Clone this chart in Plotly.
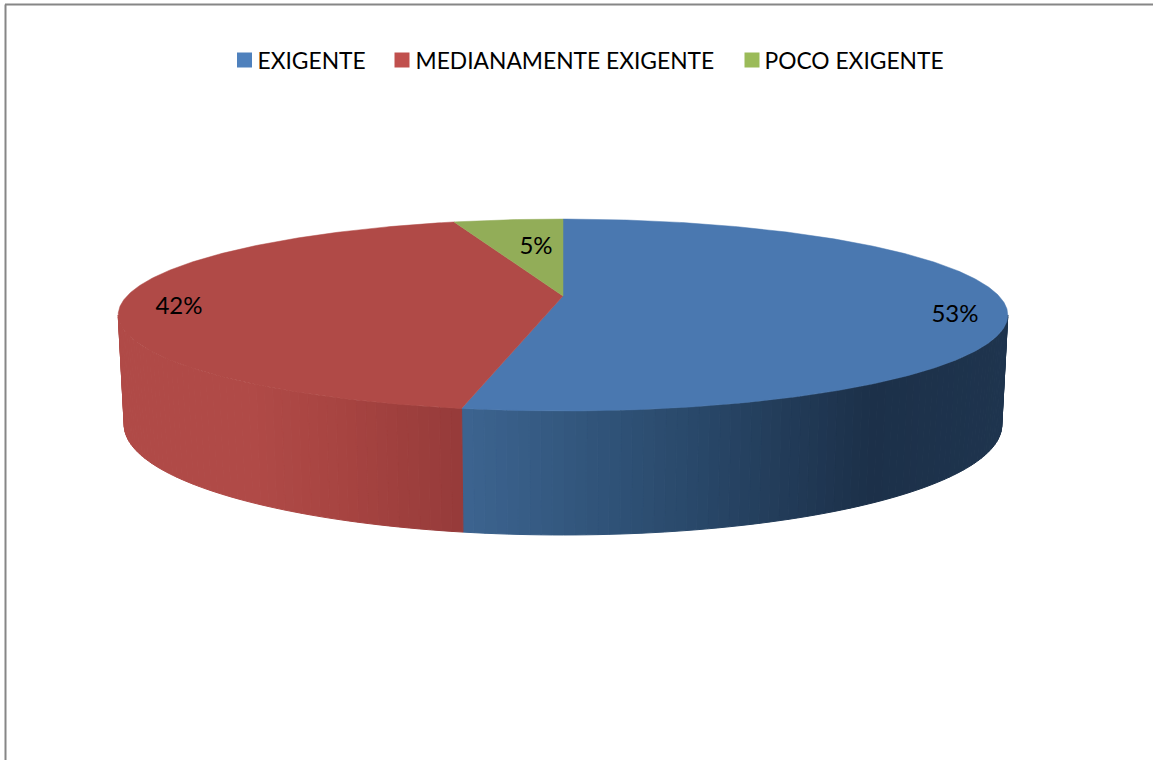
import math
import plotly.graph_objects as go

# ---- data ----
categories = ["EXIGENTE", "MEDIANAMENTE EXIGENTE", "POCO EXIGENTE"]
values = [53.0, 42.2, 4.8]
labels = ["53%", "42%", "5%"]
colors = ["#4a78b0", "#b04a47", "#92ad58"]
legend_colors = ["#4f81bd", "#c0504d", "#9bbb59"]

W, H = 1153, 760
CX, VY = 563, 296      # projected centre of the disc
A, B, K = 436, 92.2, 0.198   # perspective of the top face
SHRINK, DROP, SLOPE, MIDY = 0.9865, 110, 0.146, 315
LEGEND_X = [244.5, 402, 752]
LEGEND_Y = 60
LEGEND_TEXT_X = [257.5, 415.5, 764.5]
LEGEND_TEXT_Y = 63
LABEL_X = [955, 179, 536]
LABEL_Y = [316, 307.5, 248]

def top(theta):
    u, v = math.sin(theta), math.cos(theta)
    d = 1 + K * v
    return CX + A * u / d, VY - B * v / d

def bottom(theta):
    x, y = top(theta)
    return CX + SHRINK * (x - CX), y + DROP + (y - MIDY) * SLOPE

def lerp_stops(x, stops):
    if x <= stops[0][0]:
        c = stops[0][1]
    elif x >= stops[-1][0]:
        c = stops[-1][1]
    else:
        for (x0, c0), (x1, c1) in zip(stops, stops[1:]):
            if x0 <= x <= x1:
                t = (x - x0) / (x1 - x0)
                c = [c0[i] + (c1[i] - c0[i]) * t for i in range(3)]
                break
    return "rgb(%d,%d,%d)" % tuple(round(n) for n in c)

side_shades = [
    [(462, (60, 100, 144)), (680, (42, 74, 108)), (870, (28, 48, 73)), (1008, (30, 52, 78))],
    [(118, (176, 74, 71)), (250, (176, 74, 71)), (340, (167, 68, 65)), (462, (150, 59, 58))],
    [(118, (146, 173, 88)), (1008, (146, 173, 88))],
]

fig = go.Figure()

# slice angles from the values, clockwise from the far point of the disc
total = sum(values)
edges = [0.0]
for v in values:
    edges.append(edges[-1] + v / total * 2 * math.pi)

# visible side wall: from the right-most to the left-most point of the rim
vis0 = math.acos(-K)
vis1 = 2 * math.pi - vis0

for i in range(len(values)):
    a0, a1 = max(edges[i], vis0), min(edges[i + 1], vis1)
    if a1 <= a0:
        continue
    n = max(2, int((a1 - a0) / math.radians(1.2)))
    for j in range(n):
        t0 = a0 + (a1 - a0) * j / n
        t1 = a0 + (a1 - a0) * (j + 1) / n
        p0, p1, q1, q0 = top(t0), top(t1), bottom(t1), bottom(t0)
        col = lerp_stops((p0[0] + p1[0]) / 2, side_shades[i])
        fig.add_trace(go.Scatter(
            x=[p0[0], p1[0], q1[0], q0[0], p0[0]],
            y=[p0[1], p1[1], q1[1], q0[1], p0[1]],
            mode="lines", fill="toself", fillcolor=col,
            line=dict(color=col, width=1), hoverinfo="skip", showlegend=False))

# top face
for i in range(len(values)):
    n = max(8, int((edges[i + 1] - edges[i]) / math.radians(0.5)))
    pts = [top(edges[i] + (edges[i + 1] - edges[i]) * j / n) for j in range(n + 1)]
    xs = [CX] + [p[0] for p in pts] + [CX]
    ys = [VY] + [p[1] for p in pts] + [VY]
    fig.add_trace(go.Scatter(
        x=xs, y=ys, mode="lines", fill="toself", fillcolor=colors[i],
        line=dict(color=colors[i], width=0.5), name=categories[i],
        showlegend=False, hoverinfo="name"))

# data labels
fig.add_trace(go.Scatter(
    x=LABEL_X, y=LABEL_Y, mode="text", text=labels,
    textposition="middle center",
    textfont=dict(family="Lato", size=24, color="#000000"),
    showlegend=False, hoverinfo="skip"))

# legend row: square markers, then their names
for name, col, lx, tx in zip(categories, legend_colors, LEGEND_X, LEGEND_TEXT_X):
    fig.add_trace(go.Scatter(
        x=[lx], y=[LEGEND_Y], mode="markers", name=name,
        marker=dict(symbol="square", size=15, color=col),
        showlegend=False, hoverinfo="name"))
    fig.add_trace(go.Scatter(
        x=[tx], y=[LEGEND_TEXT_Y], mode="text", text=[name],
        textposition="middle right",
        textfont=dict(family="Lato", size=22.8, color="#000000"),
        showlegend=False, hoverinfo="skip"))

fig.update_layout(
    width=W, height=H, autosize=False,
    margin=dict(l=0, r=0, t=0, b=0),
    paper_bgcolor="#ffffff", plot_bgcolor="#ffffff",
    xaxis=dict(range=[0, W], visible=False, fixedrange=True),
    yaxis=dict(range=[H, 0], visible=False, fixedrange=True),
    showlegend=False,
    shapes=[
        dict(type="line", xref="x", yref="y", x0=5.5, x1=5.5, y0=4.5, y1=H, line=dict(color="#868686", width=2)),
        dict(type="line", xref="x", yref="y", x0=5, x1=W, y0=4.5, y1=4.5, line=dict(color="#868686", width=2)),
    ],
)

fig.write_html("out.html", config=dict(displayModeBar=False),
               post_script="document.body.style.margin='0';document.body.style.overflow='hidden';")
